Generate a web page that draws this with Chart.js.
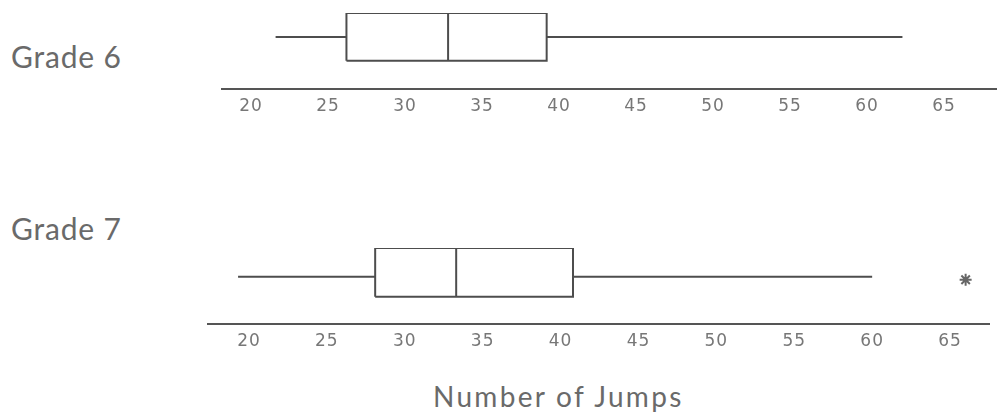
<!DOCTYPE html>
<html>
<head>
<meta charset="utf-8">
<script src="https://cdn.jsdelivr.net/npm/chart.js@4"></script>
<style>
  body { margin: 0; background: #fff; width: 997px; height: 417px; position: relative; overflow: hidden; }
  .wrap { position: absolute; left: 0; width: 997px; }
  .lbl { position: absolute; font-family: Lato, sans-serif; color: #6a6a6a; white-space: nowrap; }
</style>
</head>
<body>
<div class="lbl" style="left:11px; top:38px; font-size:30px; letter-spacing:0.8px;">Grade 6</div>
<div class="lbl" style="left:11px; top:210px; font-size:30px; letter-spacing:0.8px;">Grade 7</div>
<div class="lbl" style="left:433px; top:379px; font-size:28px; letter-spacing:2.3px;">Number of Jumps</div>
<div class="wrap" style="top:0; height:125px;"><canvas id="grade6"></canvas></div>
<div class="wrap" style="top:200px; height:160px;"><canvas id="grade7"></canvas></div>
<script>
// five-number summaries
var tickValues = [20, 25, 30, 35, 40, 45, 50, 55, 60, 65];
var grade6 = [21.6, 26.2, 32.8, 39.2, 62.3];   // min, Q1, median, Q3, max
var grade7 = [19.3, 28.1, 33.3, 40.8, 60.0];
var grade7Outliers = [66];

var lineColor = "#4d4d4d";

function boxDatasets(s, outliers, wy, oy) {
  var min = s[0], q1 = s[1], med = s[2], q3 = s[3], max = s[4];
  var line = { showLine: true, borderColor: lineColor, borderWidth: 2, pointRadius: 0, fill: false };
  var sets = [
    Object.assign({ data: [{x: q1, y: 0}, {x: q3, y: 0}, {x: q3, y: 1}, {x: q1, y: 1}, {x: q1, y: 0}] }, line),
    Object.assign({ data: [{x: med, y: 0}, {x: med, y: 1}] }, line),
    Object.assign({ data: [{x: min, y: wy}, {x: q1, y: wy}] }, line),
    Object.assign({ data: [{x: q3, y: wy}, {x: max, y: wy}] }, line)
  ];
  if (outliers) {
    sets.push({
      data: outliers.map(function (v) { return {x: v, y: oy}; }),
      showLine: false, pointStyle: "star", pointRadius: 6,
      borderColor: "#666", borderWidth: 2, backgroundColor: "#666"
    });
  }
  return sets;
}

var spacing = {
  id: "spacing",
  beforeDraw: function (chart) { chart.ctx.letterSpacing = "1px"; }
};

function makeChart(id, summary, outliers, xmin, xmax, ymin, ymax, pad, wy, oy) {
  return new Chart(id, {
    type: "scatter",
    data: { datasets: boxDatasets(summary, outliers, wy, oy) },
    plugins: [spacing],
    options: {
      responsive: true,
      maintainAspectRatio: false,
      animation: false,
      layout: { padding: pad },
      plugins: { legend: { display: false }, tooltip: { enabled: false } },
      scales: {
        x: {
          type: "linear", min: xmin, max: xmax,
          afterBuildTicks: function (scale) {
            scale.ticks = tickValues.map(function (v) { return { value: v }; });
          },
          grid: { display: false, drawTicks: false },
          border: { display: true, color: "#555", width: 2 },
          ticks: {
            color: "#777", padding: 8,
            font: { family: "'DejaVu Sans'", size: 17 },
            maxRotation: 0, autoSkip: false
          }
        },
        y: { type: "linear", min: ymin, max: ymax, display: false }
      }
    }
  });
}

makeChart("grade6", grade6, null, 18.12, 68.44, -0.583, 1, { left: 222, right: 0, top: 13, bottom: 0 }, 0.5, 0.5);
makeChart("grade7", grade7, grade7Outliers, 17.37, 67.5, -0.55, 1, { left: 208, right: 7, top: 48, bottom: 0 }, 0.41, 0.35);
</script>
</body>
</html>
